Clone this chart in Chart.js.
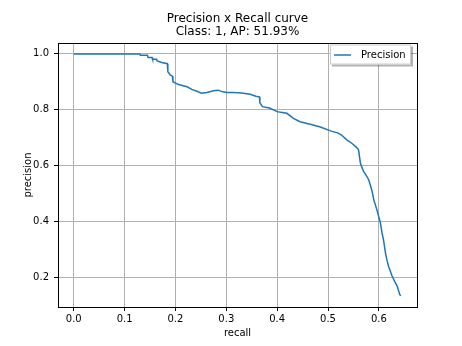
<!DOCTYPE html>
<html>
<head>
<meta charset="utf-8">
<script src="https://cdn.jsdelivr.net/npm/chart.js@4/dist/chart.umd.min.js"></script>
<style>
  html, body { margin: 0; padding: 0; background: #fff; }
  #wrap { width: 462px; height: 346px; }
</style>
</head>
<body>
<div id="wrap"><canvas id="c" width="462" height="346"></canvas></div>
<script>
const titleLines = ["Precision x Recall curve", "Class: 1, AP: 51.93%"];
const seriesLabel = "Precision";
const xTicks = [0.0, 0.1, 0.2, 0.3, 0.4, 0.5, 0.6];
const yTicks = [0.2, 0.4, 0.6, 0.8, 1.0];
const recall = [0, 0.13, 0.131, 0.145, 0.146, 0.154, 0.155, 0.163, 0.164, 0.173, 0.184, 0.185, 0.19, 0.194, 0.195, 0.205, 0.215, 0.223, 0.232, 0.242, 0.251, 0.262, 0.275, 0.284, 0.293, 0.301, 0.315, 0.33, 0.347, 0.358, 0.365, 0.366, 0.371, 0.385, 0.4, 0.41, 0.419, 0.432, 0.445, 0.465, 0.485, 0.505, 0.52, 0.526, 0.537, 0.548, 0.556, 0.56, 0.5636, 0.566, 0.57, 0.575, 0.58, 0.584, 0.587, 0.59, 0.596, 0.603, 0.606, 0.609, 0.613, 0.616, 0.619, 0.626, 0.631, 0.636, 0.641, 0.643];
const precision = [1.0, 1.0, 0.995, 0.995, 0.987, 0.987, 0.981, 0.981, 0.975, 0.969, 0.965, 0.936, 0.924, 0.92, 0.90, 0.891, 0.886, 0.882, 0.873, 0.866, 0.859, 0.862, 0.868, 0.870, 0.864, 0.862, 0.862, 0.86, 0.855, 0.848, 0.846, 0.825, 0.811, 0.806, 0.793, 0.79, 0.787, 0.769, 0.757, 0.748, 0.738, 0.724, 0.716, 0.71, 0.692, 0.678, 0.665, 0.656, 0.61, 0.596, 0.579, 0.565, 0.549, 0.525, 0.505, 0.477, 0.442, 0.395, 0.36, 0.335, 0.287, 0.26, 0.239, 0.204, 0.185, 0.168, 0.138, 0.133];

const FONT = "'DejaVu Sans', sans-serif";
const points = recall.map((r, i) => ({ x: r, y: precision[i] }));

const framePlugin = {
  id: 'frame',
  afterDraw(chart) {
    const ctx = chart.ctx;
    const a = chart.chartArea;
    ctx.save();
    ctx.strokeStyle = '#000';
    ctx.lineWidth = 1;
    ctx.strokeRect(Math.round(a.left) + 0.5, Math.round(a.top) + 0.5, Math.round(a.right - a.left), Math.round(a.bottom - a.top));
    // title
    ctx.fillStyle = '#000';
    ctx.font = "12px " + FONT;
    ctx.textAlign = 'center';
    ctx.textBaseline = 'middle';
    const cx = (a.left + a.right) / 2;
    ctx.fillText(titleLines[0], cx, 19);
    ctx.fillText(titleLines[1], cx, 31.5);
    // legend
    const lx = 330, ly = 44.5, lw = 81, lh = 20;
    ctx.fillStyle = 'rgba(0,0,0,0.3)';
    ctx.fillRect(lx + 2, ly + 2, lw, lh);
    ctx.fillStyle = '#fff';
    ctx.fillRect(lx, ly, lw, lh);
    ctx.strokeStyle = '#cccccc';
    ctx.lineWidth = 1;
    ctx.strokeRect(lx + 0.5, ly + 0.5, lw - 1, lh - 1);
    const ds = chart.data.datasets[0];
    ctx.strokeStyle = ds.borderColor;
    ctx.lineWidth = 1.5;
    ctx.beginPath();
    ctx.moveTo(334, 55);
    ctx.lineTo(351, 55);
    ctx.stroke();
    ctx.fillStyle = '#000';
    ctx.font = "10px " + FONT;
    ctx.textAlign = 'left';
    ctx.fillText(ds.label, 361, 55);
    ctx.restore();
  }
};

new Chart(document.getElementById('c'), {
  type: 'line',
  data: {
    datasets: [{
      label: seriesLabel,
      data: points,
      borderColor: '#1f77b4',
      borderWidth: 1.5,
      pointRadius: 0,
      fill: false,
      tension: 0
    }]
  },
  options: {
    responsive: false,
    animation: false,
    devicePixelRatio: 1,
    layout: { padding: { top: 43, left: 0, right: 45, bottom: 0 } },
    plugins: { legend: { display: false }, title: { display: false }, tooltip: { enabled: false } },
    scales: {
      x: {
        type: 'linear',
        min: -0.031,
        max: 0.675,
        afterBuildTicks: s => { s.ticks = xTicks.map(v => ({ value: v })); },
        afterFit: s => { s.height = 39; },
        grid: { color: '#b0b0b0', lineWidth: 1, tickLength: 4, tickColor: '#000', drawOnChartArea: true },
        border: { display: true, color: '#000', width: 1 },
        ticks: { color: '#000', font: { family: FONT, size: 10 }, padding: 2, maxRotation: 0, callback: v => Number(v).toFixed(1) },
        title: { display: true, text: 'recall', color: '#000', font: { family: FONT, size: 10 }, padding: { top: 0, bottom: 7 } }
      },
      y: {
        type: 'linear',
        min: 0.093,
        max: 1.039,
        afterBuildTicks: s => { s.ticks = yTicks.map(v => ({ value: v })); },
        afterFit: s => { s.width = 58; },
        grid: { color: '#b0b0b0', lineWidth: 1, tickLength: 4, tickColor: '#000' },
        border: { display: true, color: '#000', width: 1 },
        ticks: { color: '#000', font: { family: FONT, size: 10 }, padding: 5, callback: v => Number(v).toFixed(1) },
        title: { display: true, text: 'precision', color: '#000', font: { family: FONT, size: 10 }, padding: { top: 22, bottom: 0 } }
      }
    }
  },
  plugins: [framePlugin]
});
</script>
</body>
</html>
